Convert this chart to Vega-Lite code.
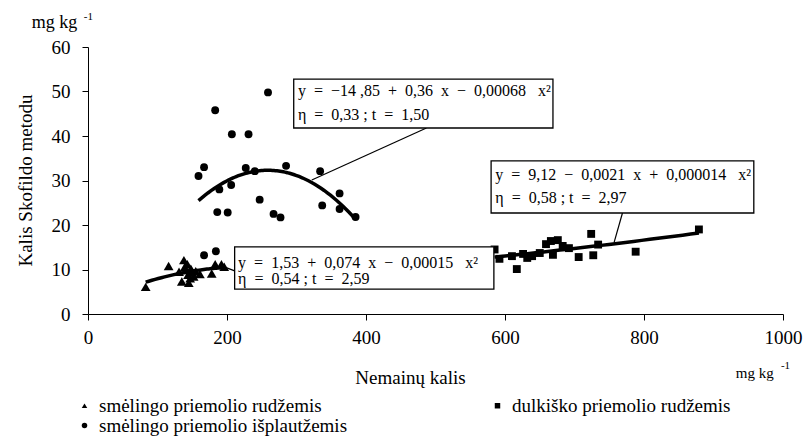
{
  "$schema": "https://vega.github.io/schema/vega-lite/v6.json",
  "width": 695,
  "height": 267,
  "autosize": "none",
  "padding": {"left": 88, "top": 47, "right": 24, "bottom": 127},
  "background": "white",
  "config": {
    "font": "Liberation Serif",
    "view": {"stroke": null},
    "axis": {
      "grid": false,
      "domainColor": "black",
      "tickColor": "black",
      "labelColor": "black",
      "titleColor": "black",
      "labelFont": "Liberation Serif",
      "titleFont": "Liberation Serif",
      "labelFontSize": 19,
      "titleFontSize": 19,
      "titleFontWeight": "normal",
      "labelFlush": false,
      "labelOverlap": false
    },
    "legend": {
      "orient": "none",
      "legendX": -13,
      "legendY": 349,
      "columns": 2,
      "columnPadding": 140,
      "rowPadding": -6,
      "labelFont": "Liberation Serif",
      "labelFontSize": 19,
      "labelColor": "black",
      "labelLimit": 400,
      "labelOffset": 5,
      "symbolSize": 30,
      "symbolFillColor": "black",
      "symbolStrokeColor": "black",
      "symbolStrokeWidth": 0
    }
  },
  "datasets": {
    "points": [
      {"soil": "smėlingo priemolio rudžemis", "x": 83, "y": 6.1},
      {"soil": "smėlingo priemolio rudžemis", "x": 116, "y": 10.8},
      {"soil": "smėlingo priemolio rudžemis", "x": 131, "y": 9.5},
      {"soil": "smėlingo priemolio rudžemis", "x": 135, "y": 7.3},
      {"soil": "smėlingo priemolio rudžemis", "x": 138, "y": 12.1},
      {"soil": "smėlingo priemolio rudžemis", "x": 139, "y": 10.5},
      {"soil": "smėlingo priemolio rudžemis", "x": 141, "y": 9.9},
      {"soil": "smėlingo priemolio rudžemis", "x": 143, "y": 11.2},
      {"soil": "smėlingo priemolio rudžemis", "x": 144, "y": 8.8},
      {"soil": "smėlingo priemolio rudžemis", "x": 145, "y": 7.0},
      {"soil": "smėlingo priemolio rudžemis", "x": 147, "y": 8.0},
      {"soil": "smėlingo priemolio rudžemis", "x": 148, "y": 10.2},
      {"soil": "smėlingo priemolio rudžemis", "x": 150, "y": 9.3},
      {"soil": "smėlingo priemolio rudžemis", "x": 152, "y": 8.4},
      {"soil": "smėlingo priemolio rudžemis", "x": 155, "y": 9.6},
      {"soil": "smėlingo priemolio rudžemis", "x": 161, "y": 9.0},
      {"soil": "smėlingo priemolio rudžemis", "x": 178, "y": 9.1},
      {"soil": "smėlingo priemolio rudžemis", "x": 183, "y": 11.2},
      {"soil": "smėlingo priemolio rudžemis", "x": 192, "y": 11.2},
      {"soil": "smėlingo priemolio rudžemis", "x": 196, "y": 10.6},
      {"soil": "dulkiško priemolio rudžemis", "x": 585, "y": 14.5},
      {"soil": "dulkiško priemolio rudžemis", "x": 592, "y": 12.4},
      {"soil": "dulkiško priemolio rudžemis", "x": 610, "y": 13.0},
      {"soil": "dulkiško priemolio rudžemis", "x": 617, "y": 10.1},
      {"soil": "dulkiško priemolio rudžemis", "x": 626, "y": 13.5},
      {"soil": "dulkiško priemolio rudžemis", "x": 632, "y": 12.6},
      {"soil": "dulkiško priemolio rudžemis", "x": 639, "y": 13.0},
      {"soil": "dulkiško priemolio rudžemis", "x": 650, "y": 13.7},
      {"soil": "dulkiško priemolio rudžemis", "x": 659, "y": 15.7},
      {"soil": "dulkiško priemolio rudžemis", "x": 666, "y": 16.4},
      {"soil": "dulkiško priemolio rudžemis", "x": 669, "y": 13.3},
      {"soil": "dulkiško priemolio rudžemis", "x": 676, "y": 16.6},
      {"soil": "dulkiško priemolio rudžemis", "x": 683, "y": 15.3},
      {"soil": "dulkiško priemolio rudžemis", "x": 692, "y": 14.8},
      {"soil": "dulkiško priemolio rudžemis", "x": 706, "y": 12.8},
      {"soil": "dulkiško priemolio rudžemis", "x": 724, "y": 18.0},
      {"soil": "dulkiško priemolio rudžemis", "x": 727, "y": 13.2},
      {"soil": "dulkiško priemolio rudžemis", "x": 734, "y": 15.6},
      {"soil": "dulkiško priemolio rudžemis", "x": 788, "y": 14.0},
      {"soil": "dulkiško priemolio rudžemis", "x": 879, "y": 19.0},
      {"soil": "smėlingo priemolio išplautžemis", "x": 183, "y": 45.8},
      {"soil": "smėlingo priemolio išplautžemis", "x": 207, "y": 40.4},
      {"soil": "smėlingo priemolio išplautžemis", "x": 231, "y": 40.4},
      {"soil": "smėlingo priemolio išplautžemis", "x": 259, "y": 49.8},
      {"soil": "smėlingo priemolio išplautžemis", "x": 167, "y": 33.0},
      {"soil": "smėlingo priemolio išplautžemis", "x": 159, "y": 31.0},
      {"soil": "smėlingo priemolio išplautžemis", "x": 227, "y": 32.8},
      {"soil": "smėlingo priemolio išplautžemis", "x": 240, "y": 32.1},
      {"soil": "smėlingo priemolio išplautžemis", "x": 285, "y": 33.3},
      {"soil": "smėlingo priemolio išplautžemis", "x": 334, "y": 32.1},
      {"soil": "smėlingo priemolio išplautžemis", "x": 189, "y": 28.0},
      {"soil": "smėlingo priemolio išplautžemis", "x": 206, "y": 29.0},
      {"soil": "smėlingo priemolio išplautžemis", "x": 247, "y": 25.7},
      {"soil": "smėlingo priemolio išplautžemis", "x": 186, "y": 22.9},
      {"soil": "smėlingo priemolio išplautžemis", "x": 201, "y": 22.8},
      {"soil": "smėlingo priemolio išplautžemis", "x": 267, "y": 22.5},
      {"soil": "smėlingo priemolio išplautžemis", "x": 277, "y": 21.7},
      {"soil": "smėlingo priemolio išplautžemis", "x": 362, "y": 27.1},
      {"soil": "smėlingo priemolio išplautžemis", "x": 337, "y": 24.4},
      {"soil": "smėlingo priemolio išplautžemis", "x": 362, "y": 23.6},
      {"soil": "smėlingo priemolio išplautžemis", "x": 385, "y": 21.8},
      {"soil": "smėlingo priemolio išplautžemis", "x": 167, "y": 13.2},
      {"soil": "smėlingo priemolio išplautžemis", "x": 184, "y": 14.1}
    ],
    "boxes": [
      {"x1": 296, "x2": 669, "y1": 52.8, "y2": 41.8},
      {"x1": 580, "x2": 958, "y1": 34.4, "y2": 22.7},
      {"x1": 211, "x2": 584, "y1": 15.1, "y2": 5.6}
    ],
    "leaders": [
      {"x1": 487, "y1": 41.8, "x2": 322, "y2": 30.1},
      {"x1": 769, "y1": 22.7, "x2": 757, "y2": 16.1},
      {"x1": 211, "y1": 9.7, "x2": 196, "y2": 10.6}
    ],
    "eqs": [
      {"x": 302, "y": 50.1, "t": "y\u00a0 =\u00a0 −14\u00a0,85\u00a0 +\u00a0 0,36\u00a0 x\u00a0 −\u00a0 0,00068\u00a0\u00a0 x²"},
      {"x": 302, "y": 44.7, "t": "η\u00a0 =\u00a0 0,33\u00a0; t\u00a0 =\u00a0 1,50"},
      {"x": 586, "y": 31.2, "t": "y\u00a0 =\u00a0 9,12\u00a0 −\u00a0 0,0021\u00a0 x\u00a0 +\u00a0 0,000014\u00a0\u00a0 x²"},
      {"x": 586, "y": 26.1, "t": "η\u00a0 =\u00a0 0,58\u00a0; t\u00a0 =\u00a0 2,97"},
      {"x": 216, "y": 11.5, "t": "y\u00a0 =\u00a0 1,53\u00a0 +\u00a0 0,074\u00a0 x\u00a0 −\u00a0 0,00015\u00a0\u00a0 x²"},
      {"x": 216, "y": 7.8, "t": "η\u00a0 =\u00a0 0,54\u00a0; t\u00a0 =\u00a0 2,59"}
    ]
  },
  "layer": [
    {
      "data": {"name": "points"},
      "transform": [{"filter": "datum.soil !== 'smėlingo priemolio rudžemis'"}],
      "mark": {"type": "point", "filled": true, "opacity": 1, "size": 62},
      "encoding": {
        "x": {
          "field": "x", "type": "quantitative",
          "scale": {"domain": [0, 1000], "nice": false},
          "axis": {
            "title": "Nemainų kalis",
            "values": [0, 200, 400, 600, 800, 1000],
            "format": "d",
            "tickSize": 6,
            "labelPadding": 8,
            "titleX": 322,
            "titleY": 63,
            "titleBaseline": "middle",
            "titleAnchor": null
          }
        },
        "y": {
          "field": "y", "type": "quantitative",
          "scale": {"domain": [0, 60], "nice": false},
          "axis": {
            "title": "Kalis Skofildo metodu",
            "values": [0, 10, 20, 30, 40, 50, 60],
            "tickSize": 6,
            "labelPadding": 12,
            "titleX": -63,
            "titleY": 133,
            "titleAngle": -90,
            "titleAlign": "center",
            "titleBaseline": "middle"
          }
        },
        "shape": {
          "field": "soil", "type": "nominal",
          "scale": {
            "domain": ["smėlingo priemolio rudžemis", "smėlingo priemolio išplautžemis", "dulkiško priemolio rudžemis"],
            "range": ["triangle-up", "circle", "square"]
          },
          "legend": {"title": null}
        },
        "color": {"value": "black"}
      }
    },
    {
      "data": {"name": "points"},
      "transform": [{"filter": "datum.soil === 'smėlingo priemolio rudžemis'"}],
      "mark": {"type": "point", "filled": true, "opacity": 1, "size": 95},
      "encoding": {
        "x": {"field": "x", "type": "quantitative"},
        "y": {"field": "y", "type": "quantitative"},
        "shape": {"field": "soil", "type": "nominal", "legend": {"title": null}},
        "color": {"value": "black"}
      }
    },
    {
      "data": {"name": "points"},
      "transform": [
        {"regression": "y", "on": "x", "groupby": ["soil"], "method": "poly", "order": 2}
      ],
      "mark": {"type": "line", "color": "black", "strokeWidth": 3.5},
      "encoding": {
        "x": {"field": "x", "type": "quantitative"},
        "y": {"field": "y", "type": "quantitative"},
        "detail": {"field": "soil"}
      }
    },
    {
      "data": {"name": "leaders"},
      "mark": {"type": "rule", "color": "black", "strokeWidth": 1.2},
      "encoding": {
        "x": {"field": "x1", "type": "quantitative"},
        "y": {"field": "y1", "type": "quantitative"},
        "x2": {"field": "x2"},
        "y2": {"field": "y2"}
      }
    },
    {
      "data": {"name": "boxes"},
      "mark": {"type": "rect", "fill": "white", "stroke": "black", "strokeWidth": 1.3},
      "encoding": {
        "x": {"field": "x1", "type": "quantitative"},
        "x2": {"field": "x2"},
        "y": {"field": "y1", "type": "quantitative"},
        "y2": {"field": "y2"}
      }
    },
    {
      "data": {"name": "eqs"},
      "mark": {"type": "text", "align": "left", "baseline": "middle", "font": "Liberation Serif", "fontSize": 16, "color": "black"},
      "encoding": {
        "x": {"field": "x", "type": "quantitative"},
        "y": {"field": "y", "type": "quantitative"},
        "text": {"field": "t"}
      }
    },
    {
      "data": {"values": [{}]},
      "mark": {"type": "text", "align": "left", "baseline": "middle", "font": "Liberation Serif", "fontSize": 18, "color": "black"},
      "encoding": {"x": {"datum": -81}, "y": {"datum": 65.4}, "text": {"value": "mg kg"}}
    },
    {
      "data": {"values": [{}]},
      "mark": {"type": "text", "align": "left", "baseline": "middle", "font": "Liberation Serif", "fontSize": 11, "color": "black"},
      "encoding": {"x": {"datum": -6}, "y": {"datum": 66.8}, "text": {"value": "-1"}}
    },
    {
      "data": {"values": [{}]},
      "mark": {"type": "text", "align": "left", "baseline": "middle", "font": "Liberation Serif", "fontSize": 15, "color": "black"},
      "encoding": {"x": {"datum": 932}, "y": {"datum": -13.2}, "text": {"value": "mg kg"}}
    },
    {
      "data": {"values": [{}]},
      "mark": {"type": "text", "align": "left", "baseline": "middle", "font": "Liberation Serif", "fontSize": 11, "color": "black"},
      "encoding": {"x": {"datum": 997}, "y": {"datum": -11.7}, "text": {"value": "-1"}}
    }
  ]
}
